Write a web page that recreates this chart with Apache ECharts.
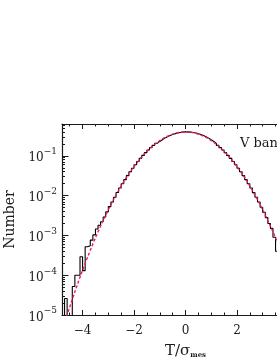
<!DOCTYPE html>
<html><head><meta charset="utf-8">
<script src="https://cdn.jsdelivr.net/npm/echarts@6/dist/echarts.min.js"></script>
<style>html,body{margin:0;padding:0;background:#fff}#c{width:277px;height:358px}</style>
</head><body><div id="c"></div>
<script>
const xMin = -4.8, xMax = 4.8, yMin = 1e-5, yMax = 0.63;
const xMajorTicks = [-4, -2, 0, 2, 4];
const xMinorTicks = [-4.5, -3.5, -3, -2.5, -1.5, -1, -0.5, 0.5, 1, 1.5, 2.5, 3, 3.5, 4.5];
const yMajorTicks = [1e-5, 1e-4, 1e-3, 1e-2, 1e-1];
const yMinorTicks = [2e-5,3e-5,4e-5,5e-5,6e-5,7e-5,8e-5,9e-5,
  2e-4,3e-4,4e-4,5e-4,6e-4,7e-4,8e-4,9e-4,
  2e-3,3e-3,4e-3,5e-3,6e-3,7e-3,8e-3,9e-3,
  2e-2,3e-2,4e-2,5e-2,6e-2,7e-2,8e-2,9e-2,
  0.2,0.3,0.4,0.5,0.6];
const binEdges = [-4.8,-4.7,-4.6,-4.5,-4.4,-4.3,-4.2,-4.1,-4.0,-3.9,-3.8,-3.7,-3.6,-3.5,-3.4,-3.3,-3.2,-3.1,-3.0,-2.9,
  -2.8,-2.7,-2.6,-2.5,-2.4,-2.3,-2.2,-2.1,-2.0,-1.9,-1.8,-1.7,-1.6,-1.5,-1.4,-1.3,-1.2,-1.1,-1.0,-0.9,
  -0.8,-0.7,-0.6,-0.5,-0.4,-0.3,-0.2,-0.1,0.0,0.1,0.2,0.3,0.4,0.5,0.6,0.7,0.8,0.9,1.0,1.1,
  1.2,1.3,1.4,1.5,1.6,1.7,1.8,1.9,2.0,2.1,2.2,2.3,2.4,2.5,2.6,2.7,2.8,2.9,3.0,3.1,
  3.2,3.3,3.4,3.5,3.6,3.7,3.8,3.9,4.0,4.1,4.2,4.3,4.4,4.5,4.6,4.7,4.8];
const histValues = [1e-7,2.6e-5,1e-7,1e-7,5.2e-5,1.0e-4,1.0e-4,2.9e-4,1.3e-4,5.2e-4,
  5.5e-4,7.6e-4,1.03e-3,1.45e-3,1.8e-3,2.2e-3,2.9e-3,3.9e-3,5.3e-3,6.9e-3,
  0.0091,0.0120,0.0155,0.0198,0.0252,0.0317,0.0396,0.0488,0.0596,0.0721,
  0.0863,0.1023,0.1200,0.1394,0.1604,0.1826,0.2059,0.2299,0.2541,0.2780,
  0.3011,0.3230,0.3429,0.3605,0.3752,0.3867,0.3945,0.3984,0.3984,0.3945,
  0.3867,0.3752,0.3605,0.3429,0.3230,0.3011,0.2780,0.2541,0.2299,0.2059,
  0.1826,0.1604,0.1394,0.1200,0.1023,0.0863,0.0721,0.0596,0.0488,0.0396,
  0.0317,0.0252,0.0198,0.0155,0.0119,0.0091,0.0069,0.0051,0.0038,0.0028,
  0.0020,0.0015,0.0009,0.0004,0.0005,0.0003,0.0002,0.00013,0.0001,5e-5,
  5e-5,2.6e-5,1e-7,1e-7,1e-7,1e-7];
const gaussX = [-4.8,-4.6,-4.4,-4.2,-4.0,-3.8,-3.6,-3.4,-3.2,-3.0,-2.8,-2.6,-2.4,-2.2,-2.0,-1.8,-1.6,-1.4,-1.2,-1.0,-0.8,-0.6,-0.4,-0.2,
  0,0.2,0.4,0.6,0.8,1.0,1.2,1.4,1.6,1.8,2.0,2.2,2.4,2.6,2.8,3.0,3.2,3.4,3.6,3.8,4.0,4.2,4.4,4.6,4.8];
const gaussY = [3.96e-6,1.01e-5,2.49e-5,5.89e-5,1.34e-4,2.92e-4,6.12e-4,1.23e-3,2.38e-3,4.43e-3,7.92e-3,0.0136,0.0224,0.0355,0.0540,0.0790,0.1109,0.1497,0.1942,0.2420,0.2897,0.3332,0.3683,0.3910,
  0.3989,0.3910,0.3683,0.3332,0.2897,0.2420,0.1942,0.1497,0.1109,0.0790,0.0540,0.0355,0.0224,0.0136,7.92e-3,4.43e-3,2.38e-3,1.23e-3,6.12e-4,2.92e-4,1.34e-4,5.89e-5,2.49e-5,1.01e-5,3.96e-6];

const FONT = '"DejaVu Serif", serif';
const INK = '#1a1a1a';
const histData = binEdges.map((e, i) => [e, histValues[Math.min(i, histValues.length - 1)]]);
const gaussData = gaussX.map((x, i) => [x, gaussY[i]]);

function xAxisDef(pos, ticks, len, showLine, showLabel, extra) {
  return Object.assign({
    type: 'value', min: xMin, max: xMax, position: pos, gridIndex: 0,
    axisLine: { show: showLine, onZero: false, lineStyle: { color: INK, width: 1.2 } },
    axisTick: { show: true, inside: true, length: len, customValues: ticks, lineStyle: { color: INK, width: 1 } },
    axisLabel: showLabel ? {
      customValues: ticks, margin: 10, fontFamily: FONT, fontSize: 12, color: INK,
      formatter: v => (v < 0 ? '\u2212' + Math.abs(v) : String(v))
    } : { show: false },
    splitLine: { show: false }
  }, extra || {});
}
const lgMin = Math.log10(yMin), lgMax = Math.log10(yMax);
function yLogAxisDef(ticks, len, showLabel, extra) {
  return Object.assign({
    type: 'value', min: lgMin, max: lgMax, position: 'left', gridIndex: 0,
    axisLine: { show: false, onZero: false },
    axisTick: { show: true, inside: true, length: len, customValues: ticks.map(Math.log10), lineStyle: { color: INK, width: 1 } },
    axisLabel: showLabel ? {
      customValues: ticks.map(Math.log10), margin: 5, color: INK,
      formatter: v => { const n = Math.round(v); return '{b|10}{s|' + (n < 0 ? '\u2212' : '') + Math.abs(n) + '}'; },
      rich: {
        b: { fontFamily: FONT, fontSize: 12, color: INK, verticalAlign: 'bottom', lineHeight: 17 },
        s: { fontFamily: FONT, fontSize: 9, color: INK, verticalAlign: 'top', lineHeight: 17 }
      }
    } : { show: false },
    splitLine: { show: false }
  }, extra || {});
}

const chart = echarts.init(document.getElementById('c'), null, { renderer: 'canvas' });
chart.setOption({
  animation: false,
  backgroundColor: '#fff',
  grid: { left: 62, right: -32, top: 124, bottom: 43, containLabel: false, outerBoundsMode: 'none' },
  xAxis: [
    xAxisDef('bottom', xMajorTicks, 5, true, true, {
      name: '{a|T/\u03c3}{s|mes}', nameLocation: 'middle', nameGap: 26,
      nameTextStyle: { rich: {
        a: { fontFamily: FONT, fontSize: 15, color: INK, verticalAlign: 'bottom', lineHeight: 18 },
        s: { fontFamily: FONT, fontSize: 7, fontWeight: 'bold', color: INK, verticalAlign: 'bottom', lineHeight: 14 }
      } }
    }),
    xAxisDef('bottom', xMinorTicks, 2.5, false, false),
    xAxisDef('top', xMajorTicks, 5, true, false),
    xAxisDef('top', xMinorTicks, 2.5, false, false)
  ],
  yAxis: [
    { type: 'log', min: yMin, max: yMax, logBase: 10, position: 'left', gridIndex: 0,
      axisLine: { show: true, onZero: false, lineStyle: { color: INK, width: 1.2 } },
      axisTick: { show: false }, axisLabel: { show: false }, splitLine: { show: false }, minorTick: { show: false } },
    yLogAxisDef(yMajorTicks, 6.5, true, {
      name: 'Number', nameLocation: 'middle', nameGap: 37, nameRotate: 90,
      nameTextStyle: { fontFamily: FONT, fontSize: 14, color: INK }
    }),
    yLogAxisDef(yMinorTicks, 3, false)
  ],
  graphic: [{ type: 'text', left: 240, top: 137, style: { text: 'V band', font: '13px "DejaVu Serif"', fill: INK } }],
  series: [
    { type: 'line', name: 'histogram', xAxisIndex: 0, yAxisIndex: 0, data: histData, step: 'end',
      symbol: 'none', clip: true, lineStyle: { color: '#000', width: 1.1 }, z: 3 },
    { type: 'line', name: 'gaussian', xAxisIndex: 0, yAxisIndex: 0, data: gaussData,
      symbol: 'none', clip: true, smooth: false, lineStyle: { color: '#f51a55', width: 1.4, type: [3, 2] }, z: 4 }
  ]
});
</script></body></html>
